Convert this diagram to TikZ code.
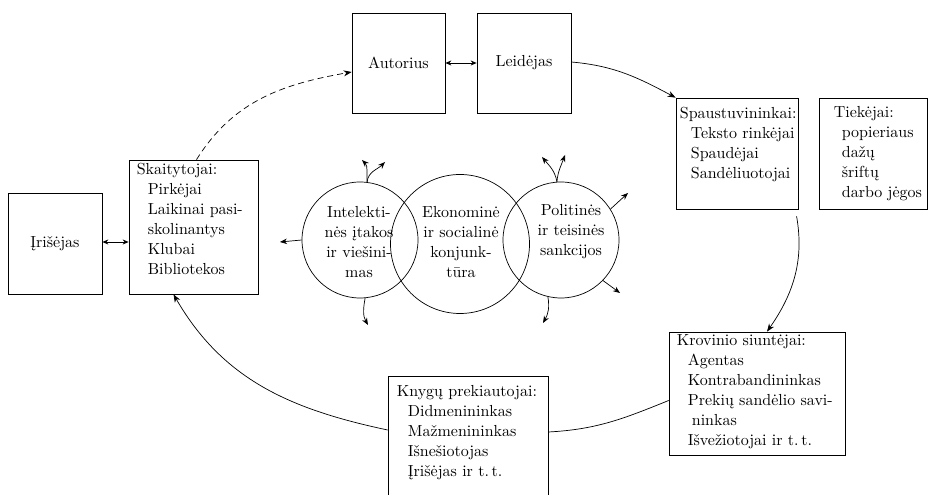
\documentclass[tikz,border=0pt]{standalone}
\usepackage{fontspec}
\setmainfont{lmroman10-regular.otf}
\usepackage{tikz}
\usetikzlibrary{arrows.meta,calc,positioning}
\newcommand{\ind}{\hspace*{11pt}}

\begin{document}
\begin{tikzpicture}[x=1pt,y=1pt,
    font=\fontsize{16}{20}\selectfont,
    box/.style={draw,line width=0.7pt,inner sep=0pt},
    ring/.style={draw,circle,line width=0.7pt,inner sep=0pt},
    txt/.style={inner sep=0pt,align=left,anchor=north west},
    ctxt/.style={inner sep=0pt,align=center},
    arr/.style={line width=0.7pt,-{Stealth[length=8pt,width=6pt]}},
    sarr/.style={line width=0.7pt,-{Stealth[length=7pt,width=5.5pt]}},
    dbl/.style={line width=0.7pt,{Stealth[length=6pt,width=5pt]}-{Stealth[length=6pt,width=5pt]}}]
    \useasboundingbox (0,0) rectangle (929,495);

    \node[box,minimum width=93pt,minimum height=100pt] (autor) at (398.5,432) {Autorius};
    \node[box,minimum width=94pt,minimum height=100pt] (leid) at (524,432) {Leidėjas};
    \node[box,minimum width=122pt,minimum height=111pt] (spaust) at (737,341.5) {};
    \node[txt] (spaustT) at ($(spaust.north west)+(4,-9)$) {Spaustuvininkai:\\ \ind Teksto rinkėjai\\ \ind Spaudėjai\\ \ind Sandėliuotojai};
    \node[box,minimum width=108pt,minimum height=111pt] (tiek) at (873,341.5) {};
    \node[txt] (tiekT) at ($(tiek.north west)+(15,-9)$) {Tiekėjai:\\ \hspace*{8pt}popieriaus\\ \hspace*{8pt}dažų\\ \hspace*{8pt}šriftų\\ \hspace*{8pt}darbo jėgos};
    \node[box,minimum width=94pt,minimum height=101pt] (irish) at (55,251.5) {Įrišėjas};
    \node[box,minimum width=129pt,minimum height=134pt] (skait) at (193.5,268) {};
    \node[txt] (skaitT) at ($(skait.north west)+(8,-3)$) {Skaitytojai:\\ \ind Pirkėjai\\ \ind Laikinai pasi-\\ \ind skolinantys\\ \ind Klubai\\ \ind Bibliotekos};
    \node[box,minimum width=176pt,minimum height=123pt] (krov) at (757,101.5) {};
    \node[txt] (krovT) at ($(krov.north west)+(8,-3)$) {Krovinio siuntėjai:\\ \ind Agentas\\ \ind Kontrabandininkas\\ \ind Prekių sandėlio savi-\\ \ind\hspace*{4pt}ninkas\\ \ind Išvežiotojai ir t.\,t.};
    \node[box,minimum width=160pt,minimum height=122pt] (knyg) at (468,58) {};
    \node[txt] (knygT) at ($(knyg.north west)+(9,-10)$) {Knygų prekiautojai:\\ \ind Didmenininkas\\ \ind Mažmenininkas\\ \ind Išnešiotojas\\ \ind Įrišėjas ir t.\,t.};

    \node[ring,minimum size=116pt] (cL) at (360,255) {};
    \node[ring,minimum size=139pt] (cM) at (460,251) {};
    \node[ring,minimum size=116pt] (cR) at (561,255) {};
    \node[ctxt] (cLT) at (359,253) {Intelekti-\\nės įtakos\\ir viešini-\\mas};
    \node[ctxt] (cMT) at (461,253) {Ekonominė\\ir socialinė\\konjunk-\\tūra};
    \node[ctxt] (cRT) at (571,263) {Politinės\\ir teisinės\\sankcijos};

    \coordinate (lOut) at (280,253);
    \coordinate (lUpA) at (362,335);
    \coordinate (lUpB) at (385,333);
    \coordinate (lDown) at (368,170);
    \coordinate (rUpA) at (542,338);
    \coordinate (rUpB) at (565,340);
    \coordinate (rNE) at (628,302);
    \coordinate (rSE) at (620,202);
    \coordinate (rDown) at (543,172);

    \draw[sarr] (cL.west) -- (lOut);
    \draw[sarr] (cL.83) to[out=95,in=-45] (lUpA);
    \draw[sarr] (cL.83) to[out=85,in=-135] (lUpB);
    \draw[sarr] (cL.-85) to[out=-100,in=120] (lDown);
    \draw[sarr] (cR.94) to[out=100,in=-50] (rUpA);
    \draw[sarr] (cR.94) to[out=85,in=-110] (rUpB);
    \draw[sarr] (cR.32) -- (rNE);
    \draw[sarr] (cR.-44) -- (rSE);
    \draw[sarr] (cR.-103) to[out=-80,in=60] (rDown);

    \draw[dbl] (autor) -- (leid);
    \draw[dbl] ([yshift=1.5pt]irish.east) -- ([yshift=1.5pt]irish.east -| skait.west);
    \draw[arr] ([yshift=1pt]leid.east) to[out=-5,in=152] (spaust.north west);
    \draw[arr,shorten <=7pt] ([xshift=-3pt]spaust.south east) to[out=-80,in=55] ([xshift=10pt]krov.north);
    \draw[line width=0.7pt] ([yshift=-7pt]krov.west) to[out=202,in=3] ([yshift=5pt]knyg.east);
    \draw[arr] ([yshift=7pt]knyg.west) to[out=168,in=-60] ([xshift=-20pt]skait.south);
    \draw[arr,dash pattern=on 6pt off 4pt] ([xshift=3pt]skait.north) to[out=58,in=190] ([yshift=-9pt]autor.west);
\end{tikzpicture}
\end{document}
